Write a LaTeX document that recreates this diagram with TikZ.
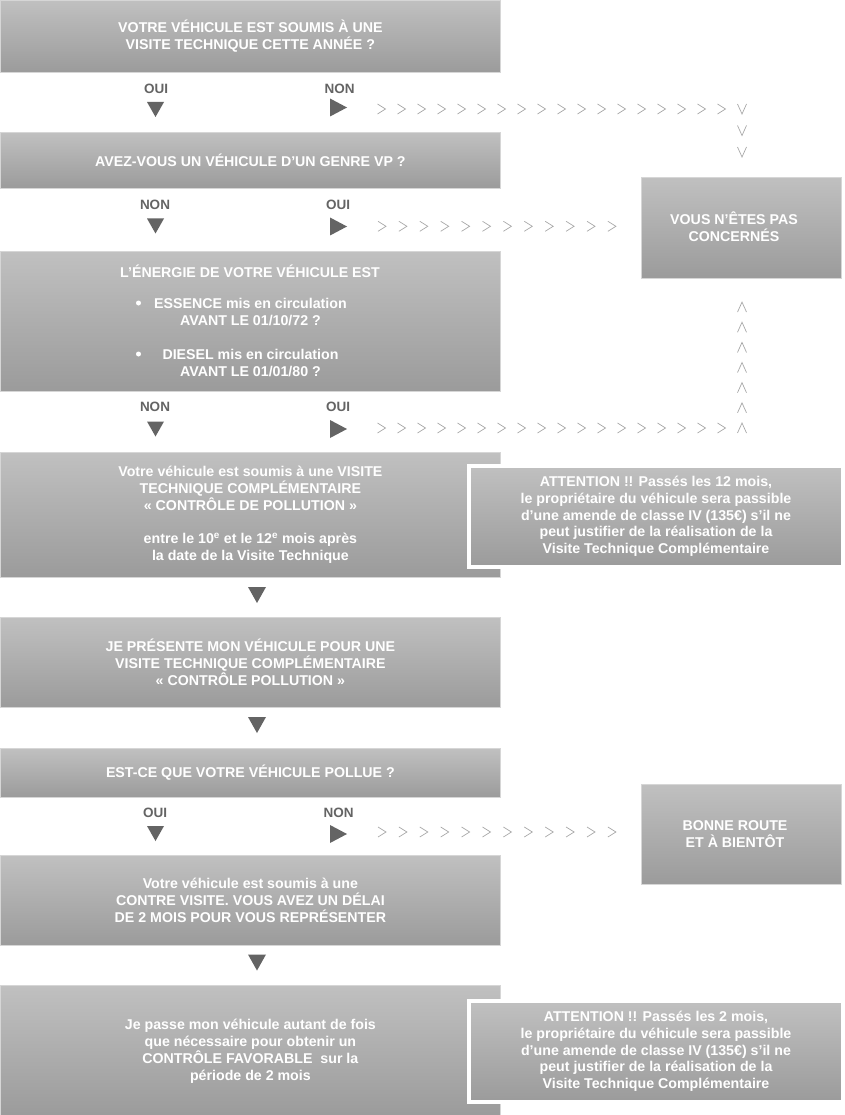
\documentclass[tikz,border=0pt]{standalone}
\usepackage{fontspec}
\setmainfont{Liberation Sans}
\definecolor{boxtop}{RGB}{192,192,192}
\definecolor{boxbot}{RGB}{155,155,155}
\definecolor{boxedge}{RGB}{214,214,214}
\definecolor{markc}{RGB}{100,100,100}
\definecolor{chevc}{RGB}{168,168,168}
\tikzset{
  box/.style={draw=boxedge, line width=0.8pt, top color=boxtop, bottom color=boxbot,
    inner sep=0pt, anchor=north west, minimum width=500pt,
    text=white, align=center, font=\bfseries\fontsize{14.2}{17}\selectfont},
  sidebox/.style={box, minimum width=200pt},
  boxtext/.style={text=white, align=center, font=\bfseries\fontsize{14.2}{17}\selectfont, inner sep=0pt},
  attbox/.style={draw=white, line width=4pt, top color=boxtop, bottom color=boxbot,
    inner sep=0pt, anchor=north west, minimum width=374pt, minimum height=101pt,
    text=white, align=center, font=\bfseries\fontsize{14.2}{16.75}\selectfont},
  answer/.style={text=markc, font=\bfseries\fontsize{13.5}{16}\selectfont, inner sep=0pt, anchor=base},
  chevline/.style={draw=chevc, line width=0.7pt, line join=miter},
  dotb/.style={circle, fill=white, inner sep=0pt, minimum size=5pt},
  chevr/.pic={\draw[chevline] (-4,-5) -- (4,0) -- (-4,5);},
  chevd/.pic={\draw[chevline] (-4.5,-5) -- (0,5) -- (4.5,-5);},
  chevu/.pic={\draw[chevline] (-4.5,5) -- (0,-5) -- (4.5,5);},
  tdown/.pic={\fill[markc] (-8.5,-7.5) -- (8.5,-7.5) -- (0,7.5) -- cycle;},
  tbig/.pic={\fill[markc] (-9,-8) -- (9,-8) -- (0,8) -- cycle;},
  tright/.pic={\fill[markc] (-8.5,-9) -- (8.5,0) -- (-8.5,9) -- cycle;}
}
\begin{document}
\begin{tikzpicture}[x=1pt,y=-1pt]
\useasboundingbox (0,0) rectangle (844,1115);
\fill[white] (0,0) rectangle (844,1115);

% main boxes
\node[box, minimum height=72pt] (q1) at (0,0) {VOTRE VÉHICULE EST SOUMIS À UNE\\VISITE TECHNIQUE CETTE ANNÉE ?};
\node[box, minimum height=56pt] (q2) at (0,132) {AVEZ-VOUS UN VÉHICULE D’UN GENRE VP ?};
\node[box, minimum height=140pt] (q3) at (0,251) {};
\node[boxtext] (q3h) at (250,271) {L’ÉNERGIE DE VOTRE VÉHICULE EST};
\node[dotb] (b1) at (138.5,303) {};
\node[boxtext] (q3a) at (250.5,312) {ESSENCE mis en circulation\\AVANT LE 01/10/72 ?};
\node[dotb] (b2) at (138.5,354) {};
\node[boxtext] (q3b) at (250.5,363) {DIESEL mis en circulation\\AVANT LE 01/01/80 ?};
\node[box, minimum height=125pt] (r1) at (0,452) {Votre véhicule est soumis à une VISITE\\TECHNIQUE COMPLÉMENTAIRE\\«~CONTRÔLE DE POLLUTION~»\\[16pt]entre le 10\textsuperscript{e} et le 12\textsuperscript{e} mois après\\la date de la Visite Technique};
\node[box, minimum height=90pt] (s1) at (0,617) {JE PRÉSENTE MON VÉHICULE POUR UNE\\VISITE TECHNIQUE COMPLÉMENTAIRE\\«~CONTRÔLE POLLUTION~»};
\node[box, minimum height=49pt] (q4) at (0,748) {EST-CE QUE VOTRE VÉHICULE POLLUE ?};
\node[box, minimum height=90pt] (r2) at (0,855) {Votre véhicule est soumis à une\\CONTRE VISITE. VOUS AVEZ UN DÉLAI\\DE 2 MOIS POUR VOUS REPRÉSENTER};
\node[box, minimum height=131pt] (s2) at (0,985) {Je passe mon véhicule autant de fois\\que nécessaire pour obtenir un\\CONTRÔLE FAVORABLE\ \ sur la\\période de 2 mois};

% side boxes
\node[sidebox, minimum height=101pt] (vous) at (641,177) {};
\node[boxtext] (voust) at (734,226.5) {VOUS N’ÊTES PAS\\CONCERNÉS};
\node[sidebox, minimum height=100pt] (bonne) at (641,784) {};
\node[boxtext] (bonnet) at (735,834) {BONNE ROUTE\\ET À BIENTÔT};

% attention boxes
\node[attbox] (att1) at (467,464) {ATTENTION !! Passés les 12 mois,\\le propriétaire du véhicule sera passible\\d’une amende de classe IV (135€) s’il ne\\peut justifier de la réalisation de la\\Visite Technique Complémentaire};
\node[attbox] (att2) at (467,999) {ATTENTION !! Passés les 2 mois,\\le propriétaire du véhicule sera passible\\d’une amende de classe IV (135€) s’il ne\\peut justifier de la réalisation de la\\Visite Technique Complémentaire};

% answers row 1
\node[answer] (a1o) at (156,93.5) {OUI};
\node[answer] (a1n) at (339.5,93.5) {NON};
\pic at (155.5,109.5) {tdown};
\pic at (338.5,107.5) {tright};
\foreach \i in {0,...,17} \pic at (381.5+20*\i,109) {chevr};
\foreach \yy in {109,130.5,152} \pic at (742,\yy) {chevd};

% answers row 2
\node[answer] (a2n) at (155,210) {NON};
\node[answer] (a2o) at (338,210) {OUI};
\pic at (155.5,226) {tdown};
\pic at (338.5,226.5) {tright};
\foreach \i in {0,...,11} \pic at (382+20.9*\i,226.3) {chevr};

% answers row 3
\node[answer] (a3n) at (155,411.5) {NON};
\node[answer] (a3o) at (338,411.5) {OUI};
\pic at (155.5,429) {tdown};
\pic at (338.5,429) {tright};
\foreach \i in {0,...,17} \pic at (381.5+20*\i,428) {chevr};
\foreach \k in {0,...,6} \pic at (742,428-20.15*\k) {chevu};

% middle arrows
\pic at (257,595) {tbig};
\pic at (257,725) {tbig};
\pic at (257,962.5) {tbig};

% answers row 4
\node[answer] (a4o) at (155,817) {OUI};
\node[answer] (a4n) at (338.5,817) {NON};
\pic at (155.5,833.5) {tdown};
\pic at (338.5,834) {tright};
\foreach \i in {0,...,11} \pic at (382+20.9*\i,832) {chevr};
\end{tikzpicture}
\end{document}
